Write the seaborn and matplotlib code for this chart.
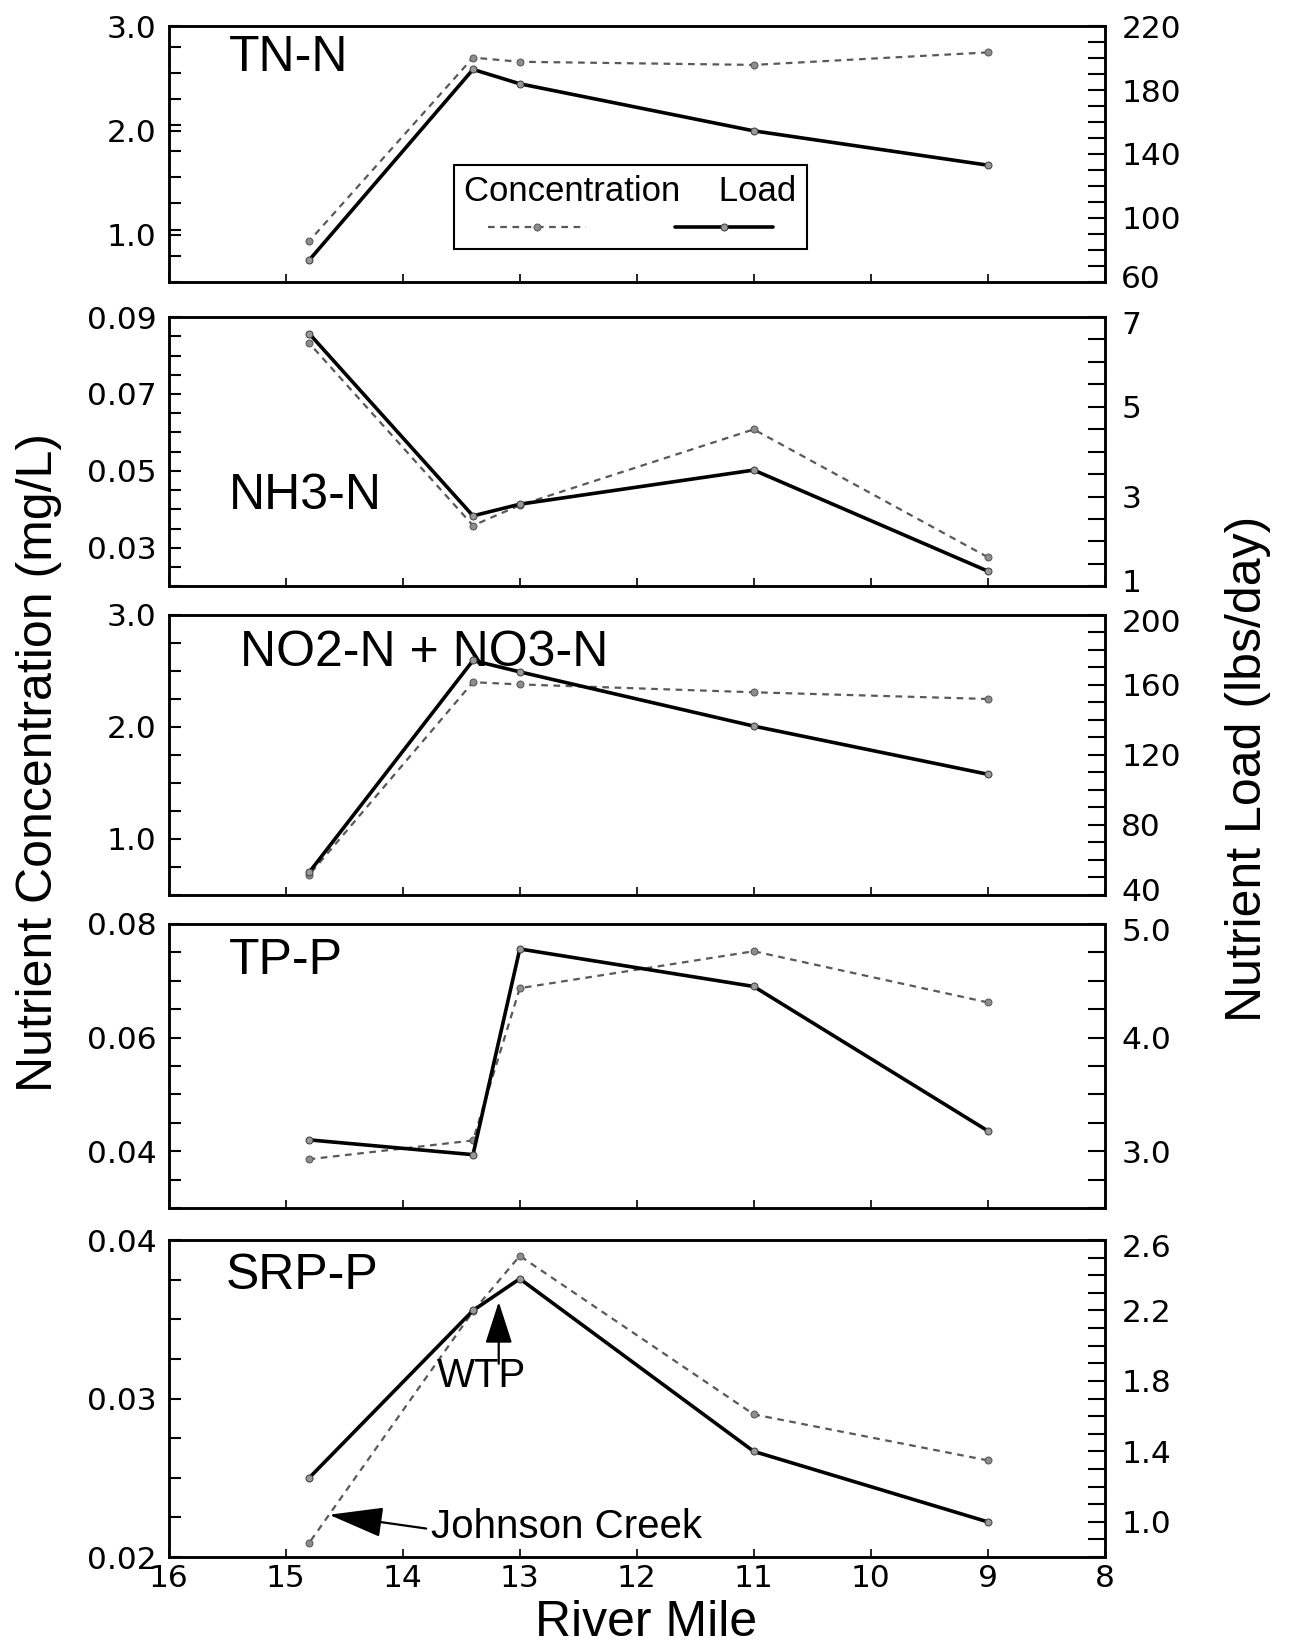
import pandas as pd
import matplotlib
matplotlib.use("Agg")
import matplotlib.pyplot as plt
import seaborn as sns
from matplotlib.ticker import FixedLocator, FormatStrFormatter
from matplotlib.transforms import ScaledTranslation

# river mile of each sampling site
river_mile = [14.8, 13.4, 13.0, 11.0, 9.0]

panel_names = ["TN-N", "NH3-N", "NO2-N + NO3-N", "TP-P", "SRP-P"]

# concentration (mg/L) and load (lbs/day) per site
tn_conc = [0.94, 2.70, 2.66, 2.63, 2.75]
tn_load = [73.5, 193.0, 184.0, 154.5, 133.0]
nh3_conc = [0.0832, 0.0358, 0.0411, 0.0608, 0.0276]
nh3_load = [6.63, 2.57, 2.83, 3.59, 1.34]
no_conc = [0.68, 2.40, 2.38, 2.31, 2.25]
no_load = [53.0, 174.0, 167.5, 136.5, 109.0]
tp_conc = [0.0386, 0.0419, 0.0687, 0.0752, 0.0662]
tp_load = [3.10, 2.97, 4.78, 4.45, 3.18]
srp_conc = [0.0209, 0.0355, 0.0390, 0.0290, 0.0261]
srp_load = [1.25, 2.20, 2.38, 1.40, 1.00]

conc_series = [tn_conc, nh3_conc, no_conc, tp_conc, srp_conc]
load_series = [tn_load, nh3_load, no_load, tp_load, srp_load]

# axis setup per panel: (limits, labelled ticks, minor step, format)
left_axes = [
    ((0.55, 3.0), [1.0, 2.0, 3.0], 0.25, "%.1f"),
    ((0.02, 0.09), [0.03, 0.05, 0.07, 0.09], 0.005, "%.2f"),
    ((0.5, 3.0), [1.0, 2.0, 3.0], 0.25, "%.1f"),
    ((0.03, 0.08), [0.04, 0.06, 0.08], 0.005, "%.2f"),
    ((0.02, 0.04), [0.02, 0.03, 0.04], 0.0025, "%.2f"),
]
right_axes = [
    ((60, 220), [60, 100, 140, 180, 220], 10, "%d"),
    ((1, 7), [1, 3, 5, 7], 0.5, "%d"),
    ((40, 200), [40, 80, 120, 160, 200], 10, "%d"),
    ((2.5, 5.0), [3.0, 4.0, 5.0], 0.25, "%.1f"),
    ((0.8, 2.6), [1.0, 1.4, 1.8, 2.2, 2.6], 0.1, "%.1f"),
]

# panel boxes in figure fractions [left, bottom, width, height]
rects = [
    [0.131, 0.829, 0.726, 0.155],
    [0.131, 0.644, 0.726, 0.1635],
    [0.131, 0.4566, 0.726, 0.170],
    [0.131, 0.2665, 0.726, 0.1725],
    [0.131, 0.0546, 0.726, 0.1925],
]
label_pos = [(0.064, 0.875), (0.064, 0.335), (0.076, 0.864), (0.064, 0.87), (0.061, 0.886)]

sns.set_style("ticks")
plt.rcParams["font.family"] = ["DejaVu Sans"]
plt.rcParams.update({
    "axes.linewidth": 1.8,
    "text.color": "black",
    "axes.edgecolor": "black",
    "axes.labelcolor": "black",
    "xtick.color": "black",
    "ytick.color": "black",
})
big = ["Liberation Sans", "DejaVu Sans"]
BIG = 36
TICK = 22.5

conc_kw = dict(color="0.35", lw=1.6, linestyle=(0, (3, 2.5)), marker="o", ms=5,
               markerfacecolor="0.55", markeredgecolor="0.35")
load_kw = dict(color="black", lw=2.6, linestyle="-", marker="o", ms=5,
               markerfacecolor="0.6", markeredgecolor="0.25")

fig = plt.figure(figsize=(12.89, 16.47), dpi=100)

def minor_ticks(lim, step, majors):
    out = []
    v = lim[0]
    while v <= lim[1] + step * 0.01:
        if all(abs(v - m) > step * 0.01 for m in majors):
            out.append(round(v, 6))
        v += step
    return out

twins = []
for i, name in enumerate(panel_names):
    ax = fig.add_axes(rects[i])
    ax2 = ax.twinx()
    twins.append(ax2)
    df = pd.DataFrame({"mile": river_mile, "conc": conc_series[i], "load": load_series[i]})
    sns.lineplot(data=df, x="mile", y="conc", ax=ax, legend=False, **conc_kw)
    sns.lineplot(data=df, x="mile", y="load", ax=ax2, legend=False, **load_kw)

    ax.set_xlim(16, 8)
    ax.xaxis.set_major_locator(FixedLocator(list(range(16, 7, -1))))
    ax.set_xlabel("")
    ax.set_ylabel("")
    ax2.set_ylabel("")

    lim, majors, step, fmt = left_axes[i]
    ax.set_ylim(*lim)
    ax.yaxis.set_major_locator(FixedLocator(majors))
    ax.yaxis.set_minor_locator(FixedLocator(minor_ticks(lim, step, majors)))
    ax.yaxis.set_major_formatter(FormatStrFormatter(fmt))

    lim, majors, step, fmt = right_axes[i]
    ax2.set_ylim(*lim)
    ax2.yaxis.set_major_locator(FixedLocator(majors))
    ax2.yaxis.set_minor_locator(FixedLocator(minor_ticks(lim, step, majors)))
    ax2.yaxis.set_major_formatter(FormatStrFormatter(fmt))

    ax.tick_params(axis="y", which="both", direction="in", length=8.5, width=1.5,
                   labelsize=TICK, pad=9, left=True, right=False)
    ax2.tick_params(axis="y", which="both", direction="in", length=12, width=1.5,
                    labelsize=TICK, pad=12)
    ax.tick_params(axis="x", which="both", direction="in", length=6, width=1.2,
                   labelsize=TICK, pad=5, top=False,
                   labelbottom=(i == len(panel_names) - 1))
    ax2.tick_params(axis="x", which="both", top=False, bottom=False)
    for a in (ax, ax2):
        for sp in a.spines.values():
            sp.set_visible(True)
            sp.set_linewidth(1.8)
            sp.set_color("black")

    ax.text(label_pos[i][0], label_pos[i][1], name, transform=ax.transAxes,
            ha="left", va="center", fontsize=BIG, family=big)

    if i == 0:
        leg = ax2.legend([ax.lines[0], ax2.lines[0]], ["", ""], ncol=2,
                         title="Concentration    Load", loc="lower left",
                         bbox_to_anchor=(0.305, 0.127), borderaxespad=0,
                         frameon=True, fancybox=False,
                         edgecolor="black", framealpha=1, fontsize=16, numpoints=1,
                         handlelength=4.4, handletextpad=0, columnspacing=4.0,
                         borderpad=0.45, title_fontproperties={"family": big, "size": 25})
        leg.get_frame().set_linewidth(1.5)

    if i == len(panel_names) - 1:
        ax.annotate("", xy=(13.18, 0.0361), xytext=(13.18, 0.0322),
                    arrowprops=dict(arrowstyle="-|>,head_length=1.3,head_width=0.42",
                                    color="black", lw=1.6, shrinkA=0, shrinkB=0,
                                    mutation_scale=20))
        ax.text(13.33, 0.0314, "WTP", ha="center", va="center", fontsize=29, family=big)
        ax.annotate("", xy=(14.63, 0.02267), xytext=(13.80, 0.0218),
                    arrowprops=dict(arrowstyle="-|>,head_length=1.7,head_width=0.47",
                                    color="black", lw=1.6, shrinkA=0, shrinkB=0,
                                    mutation_scale=20))
        ax.text(13.76, 0.0219, "Johnson Creek", ha="left", va="center", fontsize=29,
                family=big)

fig.text(0.030, 0.537, "Nutrient Concentration (mg/L)", rotation=90, ha="center",
         va="center", fontsize=BIG, family=big)
fig.text(0.968, 0.533, "Nutrient Load (lbs/day)", rotation=90, ha="center",
         va="center", fontsize=BIG, family=big)
fig.text(0.501, 0.0146, "River Mile", ha="center", va="center", fontsize=BIG,
         family=big)

# nudge the right-axis labels that sit on touching panel edges apart
fig.canvas.draw()
nudge = 4.0 / 72
for i, ax2 in enumerate(twins):
    ticks = ax2.yaxis.get_major_ticks()
    lo, hi = ax2.get_ylim()
    locs = list(ax2.yaxis.get_majorticklocs())
    for t, loc in zip(ticks, locs):
        lab = t.label2
        if abs(loc - hi) < 1e-9 and i > 0:
            lab.set_transform(lab.get_transform() + ScaledTranslation(0, -nudge, fig.dpi_scale_trans))
        elif abs(loc - lo) < 1e-9 and i < len(twins) - 1:
            lab.set_transform(lab.get_transform() + ScaledTranslation(0, nudge, fig.dpi_scale_trans))

fig.savefig("out.png", dpi=100)
